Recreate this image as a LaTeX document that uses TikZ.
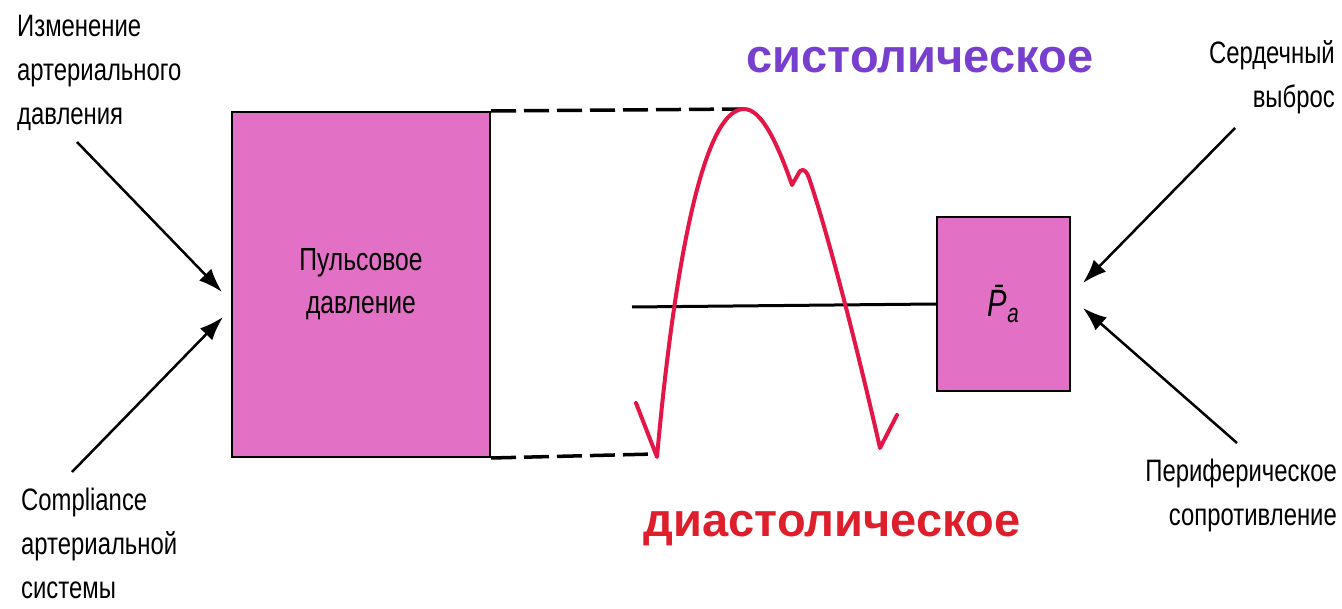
\documentclass[tikz,border=0pt]{standalone}
\usepackage{fontspec}
\setmainfont[FakeStretch=0.77]{Liberation Sans}
\newfontfamily\headfont{Liberation Sans}
\usetikzlibrary{arrows.meta}
\usetikzlibrary{positioning}
\definecolor{pinkfill}{RGB}{226,112,196}
\definecolor{sysviolet}{RGB}{120,62,205}
\definecolor{curvered}{RGB}{228,22,72}
\definecolor{diared}{RGB}{222,30,42}
\tikzstyle{box}=[draw, line width=2pt, fill=pinkfill, inner sep=0pt, align=center]
\tikzstyle{txt}=[inner sep=0pt, font=\fontsize{31}{44}\selectfont]
\tikzstyle{myarrow}=[-{Latex[length=24pt,width=17pt]}, line width=2.5pt]
\tikzstyle{dashline}=[dash pattern=on 25pt off 8pt, line width=3.5pt]
\tikzstyle{pulsecurve}=[curvered, line width=4pt, line join=round, line cap=round]
\tikzstyle{bigword}=[inner sep=0pt, anchor=base, font=\headfont\bfseries\fontsize{47}{50}\selectfont]

\begin{document}
\begin{tikzpicture}[x=1pt, y=-1pt]
    \useasboundingbox (0,0) rectangle (1342,609);

    \node[box, minimum width=258pt, minimum height=345pt,
        font=\fontsize{32}{43}\selectfont] (P) at (361,284.5) {Пульсовое\\давление};
    \node[box, minimum width=133pt, minimum height=174pt,
        font=\fontsize{38}{40}\selectfont] (Pa) at (1003.5,304) {\itshape\=P\textsubscript{a}};

    \node[txt, anchor=north west, align=left] (A) at (17,15) {Изменение\\артериального\\давления};
    \node[txt, anchor=north west, align=left] (C) at (21,488) {Compliance\\артериальной\\системы};
    \node[txt, anchor=north east, align=right] (S) at (1335,40) {Сердечный\\выброс};
    \node[txt, anchor=north east, align=right] (R) at (1337,459) {Периферическое\\сопротивление};

    \node[bigword, text=sysviolet] (sys) at (920,73) {систолическое};
    \node[bigword, text=diared] (dia) at (832,536) {диастолическое};

    \coordinate (A1) at (77,142);
    \coordinate (A2) at (222,292);
    \coordinate (C1) at (72,472);
    \coordinate (C2) at (223,317);
    \coordinate (S1) at (1235,128);
    \coordinate (S2) at (1083,283);
    \coordinate (R1) at (1237,443);
    \coordinate (R2) at (1083,308);
    \coordinate (top) at (742,109);
    \coordinate (bot) at (655,454);
    \coordinate (m) at (632,307);

    \draw[myarrow] (A1) -- (A2);
    \draw[myarrow] (C1) -- (C2);
    \draw[myarrow] (S1) -- (S2);
    \draw[myarrow] (R1) -- (R2);

    \draw[dashline] (P.north east) -- (top);
    \draw[dashline] (P.south east) -- (bot);
    \draw[line width=3pt] (m) -- (Pa.west);

    % pressure wave
    \draw[pulsecurve] (636,403) -- (657,457)
        .. controls (672,290) and (700,109) .. (744,109)
        .. controls (762,109) and (778,145) .. (792,185)
        -- (800,171)
        .. controls (804,168) and (807,172) .. (809,178)
        .. controls (830,240) and (860,360) .. (880,448)
        -- (897,415);
\end{tikzpicture}
\end{document}
